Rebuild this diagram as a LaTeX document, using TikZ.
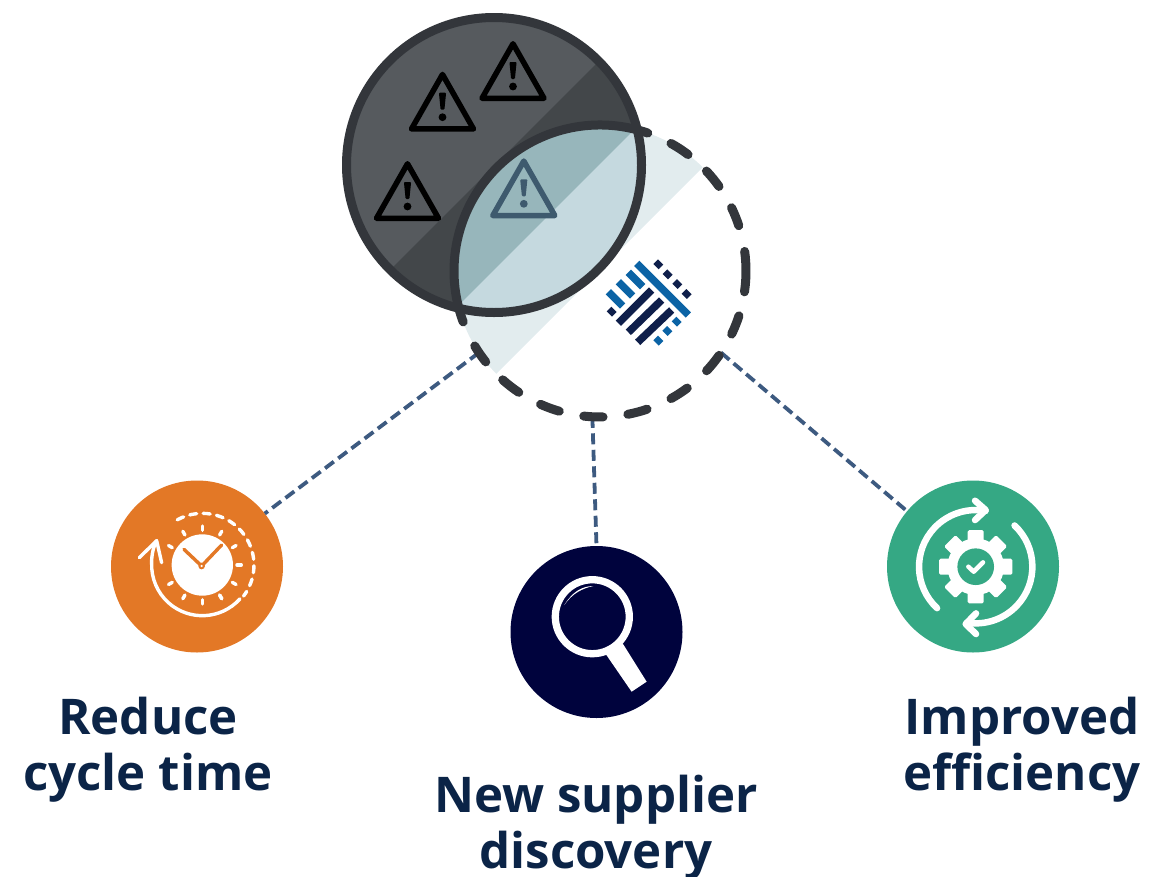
\documentclass[tikz,border=0pt]{standalone}
\usepackage{fontspec}
\setmainfont{Open Sans}
\definecolor{ring}{HTML}{33363B}
\definecolor{darkA}{HTML}{565A5E}
\definecolor{darkB}{HTML}{43474A}
\definecolor{lensA}{HTML}{97B6BB}
\definecolor{lensB}{HTML}{C5D9DF}
\definecolor{bandC}{HTML}{E2ECEE}
\definecolor{linkC}{HTML}{3D5A80}
\definecolor{orangeC}{HTML}{E37826}
\definecolor{navyC}{HTML}{00033D}
\definecolor{greenC}{HTML}{35A884}
\definecolor{titleC}{HTML}{0B2447}
\definecolor{logoN}{HTML}{0F1F4B}
\definecolor{logoB}{HTML}{0B63A5}
\definecolor{warnD}{HTML}{3E5A6E}
\newcommand{\warnsign}[3]{%
  \begin{scope}[shift={(#1,-#2)}]
    \draw[#3,line width=5.5pt,line join=round] (0,-0.75)--(31,-55.25)--(-31,-55.25)--cycle;
    \fill[#3,rounded corners=1pt] (-3.6,-19)--(3.6,-19)--(1.9,-36)--(-1.9,-36)--cycle;
    \fill[#3] (0,-43.5) circle[radius=3.9];
  \end{scope}}
\tikzset{
  x=1pt,y=1pt,
  badge/.style={circle,minimum size=172pt,inner sep=0pt,outer sep=0pt},
  link/.style={linkC,line width=3.8pt,dash pattern=on 11pt off 5.5pt},
  title/.style={font=\fontsize{49.2}{56}\selectfont\bfseries,text=titleC,align=center,inner sep=0pt},
  iconline/.style={white,line cap=round,line join=round},
  navybar/.style={logoN,line width=7.5pt},
  bluebar/.style={logoB,line width=7.5pt}
}
\begin{document}
\begin{tikzpicture}
\useasboundingbox (0,0) rectangle (1149,-876);
\coordinate (c1) at (494,-165);
\coordinate (c2) at (600,-271);
\node[circle,minimum size=292pt,inner sep=0pt,outer sep=0pt] (cand) at (c2) {};
\node[badge,fill=orangeC] (orange) at (197,-566.5) {};
\node[badge,fill=navyC] (navy) at (596.5,-632) {};
\node[badge,fill=greenC] (green) at (973,-566.5) {};
% connectors
\draw[link] (cand.214) -- (orange.38);
\draw[link] (cand.267) -- (navy.90);
\draw[link] (cand.-34) -- (green.140);
% band in dashed circle
\begin{scope}
  \clip (c2) circle[radius=146];
  \fill[bandC] (400,-364)--(800,36)--(800,-70)--(400,-470)--cycle;
\end{scope}
% dark circle
\begin{scope}
  \clip (c1) circle[radius=148];
  \fill[darkA] (c1) circle[radius=150];
  \fill[darkB] (300,-360)--(700,40)--(700,-500)--(300,-500)--cycle;
  \clip (c2) circle[radius=146];
  \fill[lensA] (300,-500) rectangle (800,40);
  \fill[lensB] (400,-364)--(800,36)--(800,-500)--(400,-500)--cycle;
\end{scope}
% warning signs
\warnsign{513}{43}{black}
\warnsign{442.5}{73.7}{black}
\warnsign{407.5}{163}{black}
\warnsign{523.8}{160.3}{warnD}
% rings
\draw[ring,line width=9pt] (c1) circle[radius=147.5];
\draw[ring,line width=9pt] ([shift={(74.3:146)}]c2) arc[start angle=74.3,end angle=194.5,radius=146];
\foreach \a/\b in {194.5/200.4,210.9/218.5,228.2/236.2,246/253.8,263.6/271.2,281/288.8,299.1/306.7,316.9/324.7,334.4/342.1,351.8/367.7,18.1/25.7,35.4/43.2,52.9/60.9,70.9/74.3}
  \draw[ring,line width=9pt,line cap=round] ([shift={(\a:146)}]c2) arc[start angle=\a,end angle=\b,radius=146];
% logo
\begin{scope}[shift={(590,-245)},scale=0.3333,yscale=-1]
  \draw[bluebar] (140,55)--(295,210);
  \draw[bluebar] (55,140)--(98,183);
  \draw[bluebar] (85,110)--(128,153);
  \draw[bluebar] (115,82)--(158,125);
  \draw[navybar] (85,235)--(185,135);
  \draw[navybar] (115,262)--(215,165);
  \draw[navybar] (143,292)--(245,195);
  \foreach \p/\q in {205/58,233/88,262/117,290/147,65/200}
    \draw[navybar] (\p-7,\q+7)--(\p+7,\q-7);
  \foreach \p/\q in {260/230,232/258,205/287}
    \draw[bluebar] (\p-7,\q+7)--(\p+7,\q-7);
\end{scope}
% clock icon
\begin{scope}[shift={(202.3,-565)},scale=0.3333]
  \fill[white] (0,0) circle[radius=92];
  \draw[orangeC,line width=3.4pt,line cap=round] (-55,47)--(-2,-3)--(58,60);
  \fill[orangeC] (-2,-3) circle[radius=10];
  \fill[white] (-2,-3) circle[radius=3.5];
  \foreach \t in {-60,-30,0,30,60,90,120,150,210,240,270,300}
    \draw[iconline,line width=3.4pt] (\t:104)--(\t:117);
  \draw[iconline,line width=3.4pt,dash pattern=on 7pt off 6.5pt] (119:155) arc[start angle=119,end angle=-37,radius=155];
  \draw[iconline,line width=3.4pt] (-42:152) arc[start angle=-42,end angle=-182,radius=152] .. controls (-153,30) and (-145,60) .. (-137,73);
  \draw[iconline,line width=3.4pt] (-189,22)--(-137,73)--(-122,7);
\end{scope}
% magnifier icon
\begin{scope}[shift={(592.3,-616.7)},scale=0.3333]
  \draw[white,line width=7.3pt] (0,0) circle[radius=111];
  \fill[white] (41,-113)--(91,-80)--(163,-195)--(118,-225)--cycle;
  \fill[white] (-84,35) .. controls (-60,75) and (-30,92) .. (3,92) .. controls (-30,85) and (-60,70) .. (-84,35) -- cycle;
\end{scope}
% gear icon
\begin{scope}[shift={(975.7,-566.7)},scale=0.3333]
  \fill[white] (0,0) circle[radius=85];
  \foreach \t in {0,45,90,135}
    \fill[white,rotate=\t,rounded corners=1.5pt] (-110,-24) rectangle (110,24);
  \fill[greenC] (0,0) circle[radius=55];
  \draw[iconline,line width=4.5pt] (-22,0)--(-6,-15)--(22,13);
  \draw[iconline,line width=6.5pt] (227:170) arc[start angle=227,end angle=80,radius=170];
  \draw[iconline,line width=6.5pt] (-2,198)--(30,170)--(-2,140);
  \draw[iconline,line width=6.5pt] (46.7:170) arc[start angle=46.7,end angle=-99,radius=170];
  \draw[iconline,line width=6.5pt] (1,-140)--(-30,-172)--(1,-202);
\end{scope}
% titles
\node[title] (t1) at (148,-750) {Reduce\\cycle time};
\node[title] (t2) at (596,-828) {New supplier\\discovery};
\node[title] (t3) at (1022,-750) {Improved\\efficiency};
\end{tikzpicture}
\end{document}
